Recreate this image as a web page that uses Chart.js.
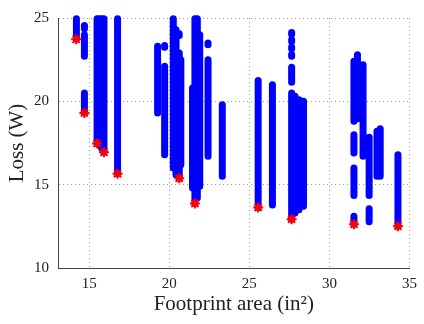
<!DOCTYPE html>
<html>
<head>
<meta charset="utf-8">
<script src="https://cdn.jsdelivr.net/npm/chart.js@4"></script>
<style>
  body { margin: 0; background: #fff; }
  canvas { display: block; }
</style>
</head>
<body>
<canvas id="grafico" width="424" height="324"></canvas>
<script>
// colunas de pontos (x, y minimo, y maximo)
const segX  = [14.2, 14.7, 14.7, 14.7, 15.49, 15.62, 15.77, 15.92, 16.77,
               19.27, 19.71, 19.71, 20.25, 20.42, 20.62, 20.62, 20.72,
               21.45, 21.6, 21.75, 21.9, 22.42, 22.42, 23.31,
               25.55, 26.44, 27.64, 27.64, 27.64, 27.64, 27.64, 27.64,
               27.85, 28.1, 28.38,
               31.53, 31.53, 31.53, 31.53, 31.75, 32.1, 32.48, 32.48,
               32.97, 33.17, 34.28];
const segLo = [23.72, 24.35, 22.7, 19.3, 17.47, 17.6, 17.2, 16.94, 15.66,
               19.3, 23.25, 16.8, 16.0, 15.6, 23.95, 15.39, 16.2,
               14.8, 13.87, 14.2, 14.9, 23.4, 16.7, 15.5,
               13.63, 13.78, 24.03, 23.59, 23.16, 22.71, 21.15, 12.93,
               13.3, 13.5, 13.7,
               18.8, 16.9, 14.35, 12.62, 18.95, 16.7, 14.35, 12.78,
               15.5, 15.5, 12.51];
const segHi = [24.95, 24.55, 24.0, 20.5, 24.95, 24.95, 24.95, 24.95, 24.95,
               23.3, 23.35, 22.1, 24.95, 24.3, 24.05, 22.9, 22.5,
               20.8, 24.95, 24.95, 24.0, 23.5, 22.5, 19.8,
               21.25, 21.0, 24.13, 23.69, 23.26, 22.81, 22.05, 20.5,
               20.3, 20.1, 20.0,
               22.4, 18.0, 16.0, 13.1, 22.8, 22.2, 17.85, 13.55,
               18.2, 18.35, 16.8];

// minimos marcados com estrela
const starX = [14.18, 14.7, 15.49, 15.92, 16.77, 20.62, 21.6, 25.55, 27.64, 31.53, 34.28];
const starY = [23.72, 19.3, 17.47, 16.94, 15.66, 15.39, 13.87, 13.63, 12.93, 12.62, 12.51];

const xTicks = [15, 20, 25, 30, 35];
const yTicks = [10, 15, 20, 25];

const fonte = 'Liberation Serif';

let datasets = [];
datasets.push({
    type: 'scatter',
    data: starX.map((x, i) => ({ x: x, y: starY[i] })),
    pointStyle: 'star',
    pointRadius: 5,
    borderColor: '#ff0000',
    backgroundColor: '#ff0000',
    pointBorderWidth: 2,
    clip: false,
    order: 0
});
segX.forEach((x, i) => {
    datasets.push({
        type: 'line',
        data: [{ x: x, y: segLo[i] }, { x: x, y: segHi[i] }],
        borderColor: '#0000ff',
        borderWidth: 7,
        borderCapStyle: 'round',
        pointRadius: 0,
        fill: false,
        clip: false,
        order: 1
    });
});

new Chart(document.getElementById('grafico').getContext('2d'), {
    type: 'scatter',
    data: { datasets: datasets },
    options: {
        responsive: false,
        animation: false,
        events: [],
        layout: { padding: { top: 11, right: 9, left: 0, bottom: 0 } },
        plugins: { legend: { display: false }, tooltip: { enabled: false } },
        scales: {
            x: {
                type: 'linear',
                min: 13.05,
                max: 35,
                afterBuildTicks: s => { s.ticks = xTicks.map(v => ({ value: v })); },
                afterFit: s => { s.height = 56; },
                grid: { color: 'rgba(0,0,0,0.4)', drawTicks: false },
                border: { display: true, color: '#444', width: 1, dash: [1, 3] },
                ticks: { padding: 7, color: '#222', font: { family: fonte, size: 15 } },
                title: {
                    display: true,
                    text: 'Footprint area (in²)',
                    color: '#222',
                    font: { family: fonte, size: 21 },
                    padding: { top: 0, bottom: 7 }
                }
            },
            y: {
                type: 'linear',
                min: 10,
                max: 25,
                afterBuildTicks: s => { s.ticks = yTicks.map(v => ({ value: v })); },
                afterFit: s => { s.width = 58; },
                grid: { color: 'rgba(0,0,0,0.4)', drawTicks: false },
                border: { display: true, color: '#444', width: 1, dash: [1, 3] },
                ticks: { padding: 9, color: '#222', font: { family: fonte, size: 15 } },
                title: {
                    display: true,
                    text: 'Loss (W)',
                    color: '#222',
                    font: { family: fonte, size: 21 },
                    padding: { top: 5, bottom: 0 }
                }
            }
        }
    }
});
</script>
</body>
</html>
